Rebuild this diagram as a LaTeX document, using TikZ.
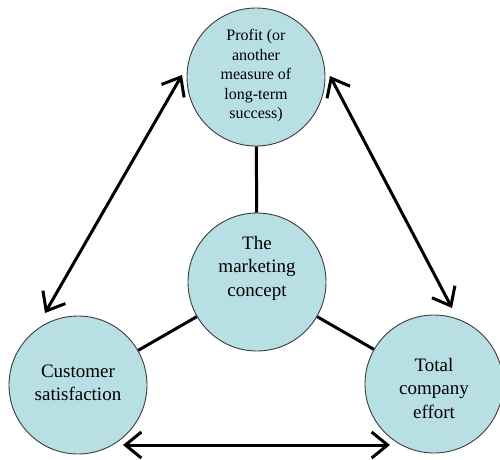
\documentclass[tikz,border=0pt]{standalone}
\usepackage{fontspec}
\setmainfont{Liberation Serif}
\usetikzlibrary{arrows.meta}
\definecolor{cfill}{RGB}{184,223,227}
\definecolor{cline}{RGB}{60,60,60}
\begin{document}
\begin{tikzpicture}[x=1pt,y=-1pt,
  bubble/.style={circle,draw=cline,line width=0.9pt,fill=cfill,minimum size=138pt,inner sep=0pt},
  bigtxt/.style={align=center,font=\fontsize{19}{23.5}\selectfont,inner sep=0pt},
  smalltxt/.style={align=center,font=\fontsize{16}{19.5}\selectfont,inner sep=0pt},
  link/.style={line width=3pt},
  dbl/.style={line width=3pt,{Straight Barb[length=16pt,width=26pt,line width=3pt]}-{Straight Barb[length=16pt,width=26pt,line width=3pt]}}]
\useasboundingbox (0,0) rectangle (500,459);
\node[bubble] (tc) at (256,77) {};
\node[bubble] (mc) at (257,282) {};
\node[bubble] (lc) at (78,385) {};
\node[bubble] (rc) at (434,384) {};
\draw[link] (tc) -- (mc);
\draw[link] (mc) -- (lc);
\draw[link] (mc) -- (rc);
\node[smalltxt] (tct) at (256,76) {Profit (or\\another\\measure of\\long-term\\success)};
\node[bigtxt] (mct) at (257,268) {The\\marketing\\concept};
\node[bigtxt] (lct) at (78,383) {Customer\\satisfaction};
\node[bigtxt] (rct) at (434,388) {Total\\company\\effort};
\coordinate (a1) at (182,75);
\coordinate (a2) at (45,313);
\coordinate (b1) at (330,76);
\coordinate (b2) at (452,308);
\coordinate (c1) at (123,445);
\coordinate (c2) at (390,445);
\draw[dbl] (a1) -- (a2);
\draw[dbl] (b1) -- (b2);
\draw[dbl] (c1) -- (c2);
\end{tikzpicture}
\end{document}
